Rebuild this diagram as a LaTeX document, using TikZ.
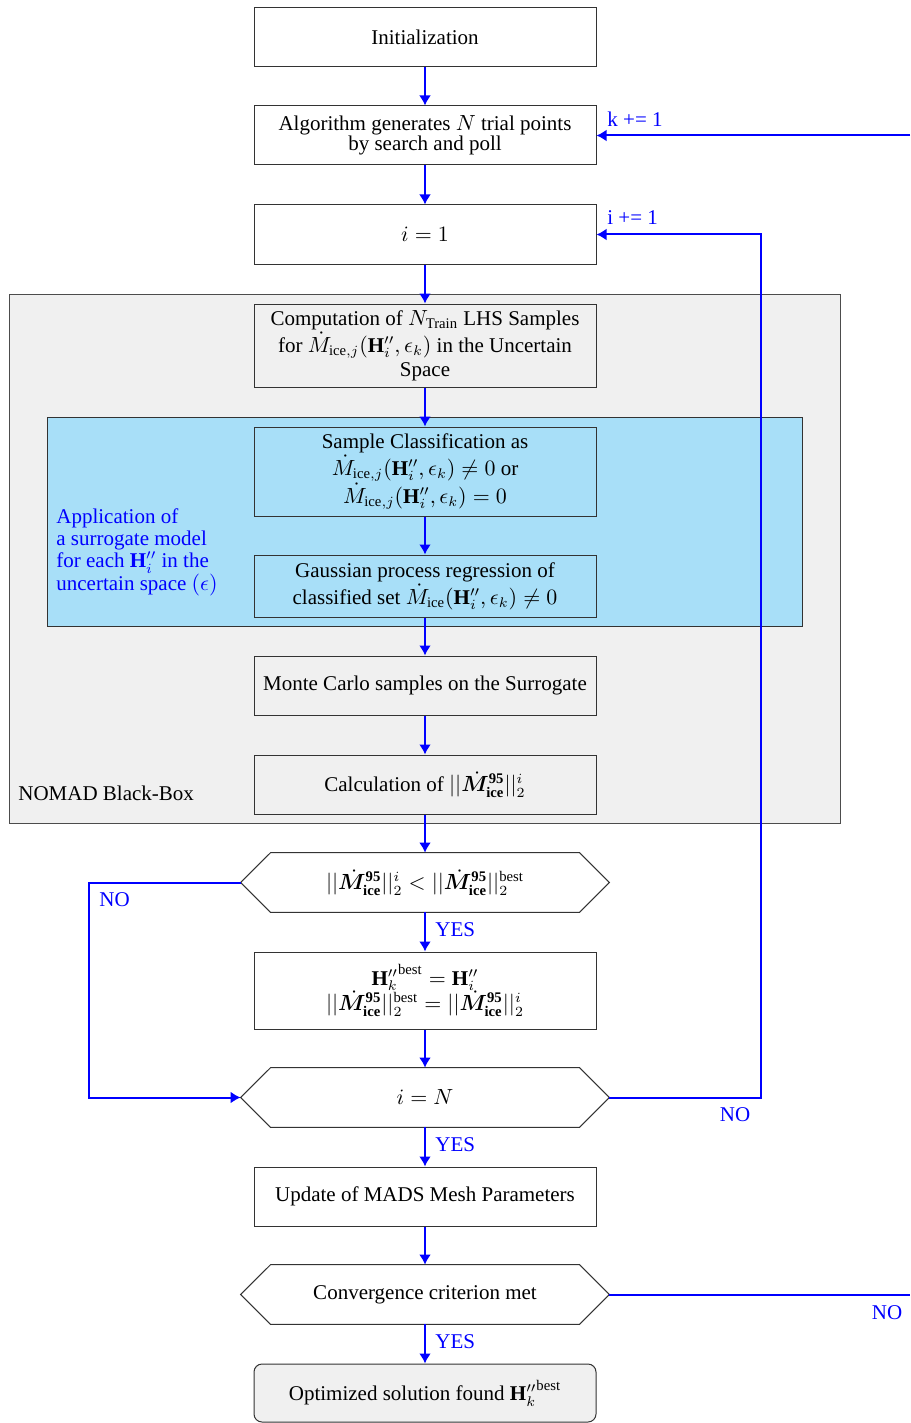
\documentclass[tikz,border=0pt]{standalone}
\usepackage{amsmath}
\usepackage{bm}
\usepackage{fontspec}
\setmainfont{Liberation Serif}
\usetikzlibrary{arrows.meta}
\definecolor{grayfill}{RGB}{240,240,240}
\definecolor{bluefill}{RGB}{168,223,248}
\definecolor{linkblue}{RGB}{0,0,255}
\newcommand{\Mnrm}{\dot{\bm{M}}^{\mathbf{95}}_{\mathbf{ice}}}
\newcommand{\Hpp}[1]{\mathbf{H}''_{#1}}
\newcommand{\hexout}[1]{\draw[hexline] (#1.west) -- ([xshift=15pt]#1.north west) -- ([xshift=-15pt]#1.north east) -- (#1.east) -- ([xshift=-15pt]#1.south east) -- ([xshift=15pt]#1.south west) -- cycle;}
\begin{document}
\begin{tikzpicture}[x=0.5pt,y=-0.5pt,
  font=\fontsize{10.5}{12}\selectfont,
  box/.style={draw=black!80, line width=0.5pt, fill=white, minimum width=171pt, minimum height=29.5pt, align=center, inner sep=2pt},
  graybox/.style={box, fill=grayfill},
  hexnode/.style={minimum width=184pt, minimum height=29.5pt, align=center, inner sep=2pt},
  hexline/.style={draw=black!80, line width=0.5pt, fill=white},
  arr/.style={draw=linkblue, line width=1pt, -{Latex[length=5pt,width=6pt]}},
  plain/.style={draw=linkblue, line width=1pt},
  lbl/.style={text=linkblue, inner sep=0pt}
]
\useasboundingbox (0,0) rectangle (910,1423);
% background regions
\node[draw=black!70, line width=0.5pt, fill=grayfill, minimum width=415.5pt, minimum height=264.5pt, anchor=north west, inner sep=0pt] (nomad) at (9,294) {};
\node[draw=black!80, line width=0.5pt, fill=bluefill, minimum width=377.5pt, minimum height=104.5pt, anchor=north west, inner sep=0pt] (surr) at (47,417) {};
\node[anchor=west, inner sep=0pt] (nomadlbl) at (18,793) {NOMAD Black-Box};
\node[anchor=west, align=left, text=linkblue, inner sep=0pt, font=\fontsize{10.5}{11.2}\selectfont] (surrlbl) at (56,552) {Application of\\a surrogate model\\for each $\Hpp{i}$ in the\\uncertain space $(\epsilon)$};
% boxes
\node[box] (init) at (425,37.5) {Initialization};
\node[box] (alg) at (425,135.5) {Algorithm generates $N$ trial points\\[-2pt]by search and poll};
\node[box] (i1) at (425,234.5) {$i=1$};
\node[graybox, minimum height=41.5pt] (comp) at (425,345.5) {Computation of $N_{\text{Train}}$ LHS Samples\\for $\dot{M}_{\text{ice},j}(\Hpp{i},\epsilon_k)$ in the Uncertain\\Space};
\node[box, fill=bluefill, minimum height=44.5pt] (class) at (425,471.5) {Sample Classification as\\$\dot{M}_{\text{ice},j}(\Hpp{i},\epsilon_k)\neq 0$ or\\$\dot{M}_{\text{ice},j}(\Hpp{i},\epsilon_k)=0$};
\node[box, fill=bluefill, minimum height=31pt] (gpr) at (425,586) {Gaussian process regression of\\classified set $\dot{M}_{\text{ice}}(\Hpp{i},\epsilon_k)\neq 0$};
\node[graybox] (mc) at (425,685.5) {Monte Carlo samples on the Surrogate};
\node[graybox] (calc) at (425,784.5) {Calculation of $||\Mnrm||^i_2$};
\node[hexnode] (d1) at (425,882.5) {};
\hexout{d1}
\node at (d1) {$||\Mnrm||^i_2<||\Mnrm||^{\text{best}}_2$};
\node[box, minimum height=38.5pt] (hbest) at (425,990.5) {${\Hpp{k}}^{\text{best}}=\Hpp{i}$\\[-1pt]$||\Mnrm||^{\text{best}}_2=||\Mnrm||^i_2$};
\node[hexnode] (iN) at (425,1097.5) {};
\hexout{iN}
\node at (iN) {$i=N$};
\node[box] (upd) at (425,1196.5) {Update of MADS Mesh Parameters};
\node[hexnode] (conv) at (425,1294.5) {};
\hexout{conv}
\node at (conv) {Convergence criterion met};
\node[graybox, rounded corners=4pt, minimum height=29pt] (opt) at (425,1393) {Optimized solution found ${\Hpp{k}}^{\text{best}}$};
% connectors
\draw[arr] (init) -- (alg);
\draw[arr] (alg) -- (i1);
\draw[arr] (i1) -- (comp);
\draw[arr] (comp) -- (class);
\draw[arr] (class) -- (gpr);
\draw[arr] (gpr) -- (mc);
\draw[arr] (mc) -- (calc);
\draw[arr] (calc) -- (d1);
\draw[arr] (d1) -- (hbest);
\draw[arr] (hbest) -- (iN);
\draw[arr] (iN) -- (upd);
\draw[arr] (upd) -- (conv);
\draw[arr] (conv) -- (opt);
% loops
\coordinate (cI) at (761,1097.5);
\draw[arr] (iN.east) -- (cI) |- (i1.east);
\coordinate (cNo) at (89,882.5);
\draw[arr] (d1.west) -- (cNo) |- (iN.west);
\coordinate (cConv) at (910,1294.5);
\draw[plain] (conv.east) -- (cConv);
\coordinate (cK) at (910,135.5);
\draw[arr] (cK) -- (alg.east);
% labels
\node[lbl, anchor=west] (yes1) at (435,930) {YES};
\node[lbl, anchor=west] (yes2) at (435,1145) {YES};
\node[lbl, anchor=west] (yes3) at (435,1342) {YES};
\node[lbl, anchor=west] (no1) at (99,900) {NO};
\node[lbl] (no2) at (735,1115) {NO};
\node[lbl] (no3) at (887,1313) {NO};
\node[lbl, anchor=west] (kinc) at (607,119) {k += 1};
\node[lbl, anchor=west] (iinc) at (607,218) {i += 1};
\end{tikzpicture}
\end{document}
